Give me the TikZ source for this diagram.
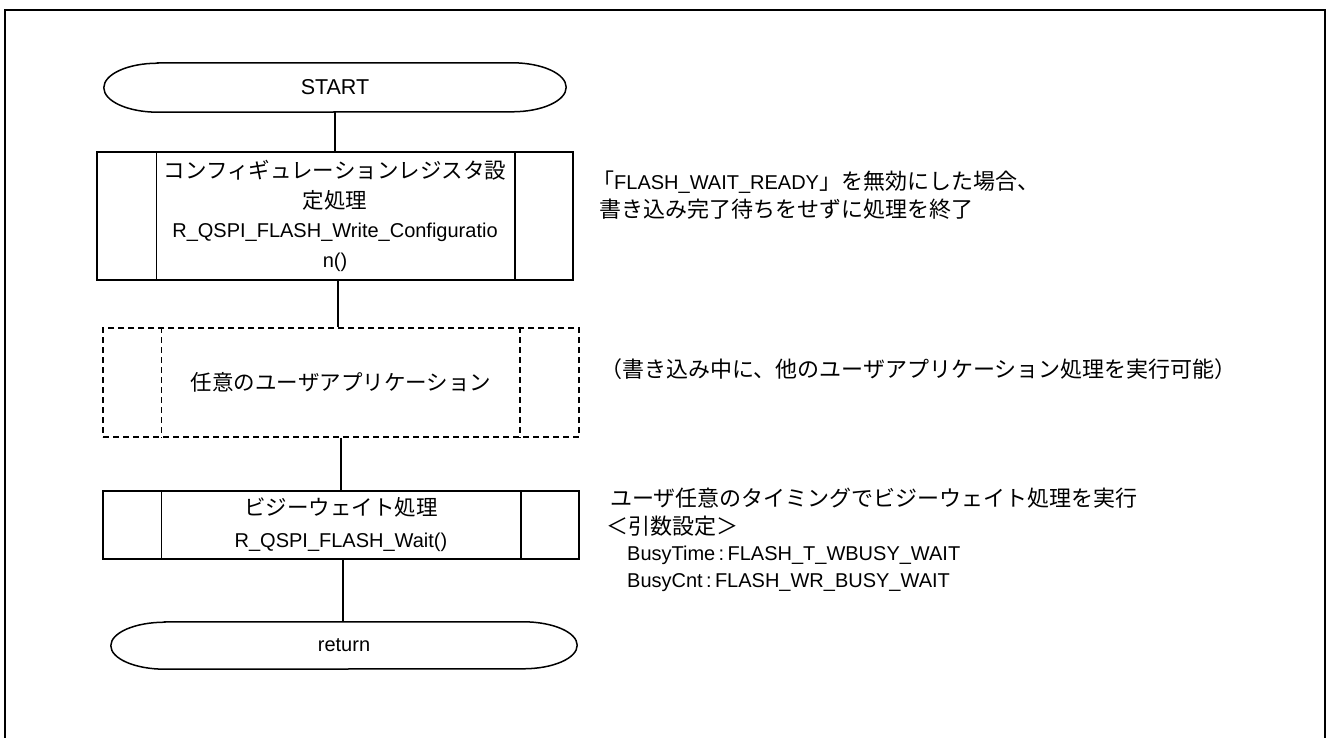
\documentclass[tikz,border=0pt]{standalone}
\usepackage{fontspec}
\setmainfont{Liberation Sans}
\newfontfamily\jp[Scale=1.075]{Noto Sans CJK JP}
\newfontfamily\jpn[Scale=1.1]{Noto Sans CJK JP}
\newcommand\fsbase{\fontsize{20}{29.6}\selectfont}
\newcommand\termoutline[3]{%
  \draw[line width=1.5pt] ([xshift=#2]#1.north west) -- ([xshift=-#2]#1.north east)
    arc[start angle=90,end angle=-90,x radius=#2,y radius=#3]
    -- ([xshift=#2]#1.south west)
    arc[start angle=270,end angle=90,x radius=#2,y radius=#3] -- cycle;}
\begin{document}
\begin{tikzpicture}[x=1pt,y=-1pt,
  box/.style={draw,line width=1.5pt,minimum width=476pt,inner sep=0pt,align=center,font=\fsbase},
  term/.style={inner sep=0pt,font=\fsbase},
  note/.style={anchor=base west,inner sep=0pt,font=\fsbase},
  conn/.style={line width=1.5pt},
  frame/.style={line width=2.2pt}]
\useasboundingbox (0,0) rectangle (1328,738);
\draw[frame] (5,740) -- (5,10) -- (1325,10) -- (1325,740);

% terminators
\node[term,minimum width=462pt,minimum height=49pt] (start) at (335,87.5) {\fontsize{21.5}{24}\selectfont START};
\termoutline{start}{54pt}{24.5pt}
\node[term,minimum width=466pt,minimum height=47pt] (ret) at (344,645.5) {return};
\termoutline{ret}{54pt}{23.5pt}

% process boxes
\node[box,minimum height=128pt] (cfg) at (335,216)
  {{\jp コンフィギュレーションレジスタ設}\\{\jp 定処理}\\R\_QSPI\_FLASH\_Write\_Configuratio\\n()};
\draw[conn] ([xshift=60pt]cfg.north west) -- ([xshift=60pt]cfg.south west);
\draw[conn] ([xshift=-59pt]cfg.north east) -- ([xshift=-59pt]cfg.south east);

\node[box,dash pattern=on 6pt off 4pt,minimum height=109pt] (app) at (341,382.5)
  {{\jp 任意のユーザアプリケーション}};
\draw[conn,dash pattern=on 6pt off 4pt] ([xshift=59pt]app.north west) -- ([xshift=59pt]app.south west);
\draw[conn,dash pattern=on 6pt off 4pt] ([xshift=-60pt]app.north east) -- ([xshift=-60pt]app.south east);

\node[box,minimum height=68pt,font={\fontsize{20}{32}\selectfont}] (busy) at (341,525)
  {{\jp ビジーウェイト処理}\\R\_QSPI\_FLASH\_Wait()};
\draw[conn] ([xshift=59pt]busy.north west) -- ([xshift=59pt]busy.south west);
\draw[conn] ([xshift=-59pt]busy.north east) -- ([xshift=-59pt]busy.south east);

% connectors (vertical)
\draw[conn] (start.south) -- (start.south |- cfg.north);
\draw[conn] ([xshift=3pt]cfg.south) -- ([xshift=3pt]cfg.south |- app.north);
\draw[conn] (app.south) -- (app.south |- busy.north);
\draw[conn] ([xshift=2pt]busy.south) -- ([xshift=2pt]busy.south |- ret.north);

% notes
\node[note] (n1a) at (592,190) {{\jpn 「}FLASH\_WAIT\_READY{\jpn 」を無効にした場合、}};
\node[note] (n1b) at (599,218) {\jpn 書き込み完了待ちをせずに処理を終了};
\node[note] (n2) at (600,377) {\jpn （書き込み中に、他のユーザアプリケーション処理を実行可能）};
\node[note] (n3a) at (610,506) {\jpn ユーザ任意のタイミングでビジーウェイト処理を実行};
\node[note] (n3b) at (606,534) {\jpn ＜引数設定＞};
\node[note] (n3c) at (627,560) {BusyTime\,:\,FLASH\_T\_WBUSY\_WAIT};
\node[note] (n3d) at (627,587) {BusyCnt\,:\,FLASH\_WR\_BUSY\_WAIT};
\end{tikzpicture}
\end{document}
